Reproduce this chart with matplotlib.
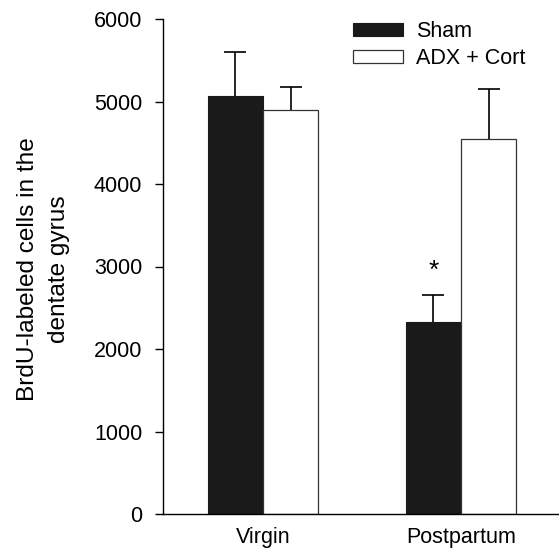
import matplotlib
matplotlib.use("Agg")
import matplotlib.pyplot as plt
import numpy as np

plt.rcParams['font.family'] = ['Liberation Sans', 'DejaVu Sans']

categories = ["Virgin", "Postpartum"]
sham_mean = [5070, 2330]
sham_err = [530, 320]
adx_mean = [4895, 4540]
adx_err = [285, 610]
yticks = [0, 1000, 2000, 3000, 4000, 5000, 6000]
ylabel_lines = ["BrdU-labeled cells in the", "dentate gyrus"]

W, H = 559, 550
fig = plt.figure(figsize=(W/100, H/100), dpi=100)
ax = fig.add_axes([163/W, 1-514/H, 1-163/W, (514-19)/H])

x = np.arange(len(categories))
w = 0.278
ekw = dict(elinewidth=1.2, capthick=1.2, ecolor='black')
b1 = ax.bar(x - w/2, sham_mean, w, color='#1a1a1a', edgecolor='#1a1a1a', lw=0.8, label='Sham',
            yerr=[np.zeros(2), sham_err], capsize=8, error_kw=ekw, zorder=2)
b2 = ax.bar(x + w/2, adx_mean, w, color='white', edgecolor='#333333', lw=0.9, label='ADX + Cort',
            yerr=[np.zeros(2), adx_err], capsize=8, error_kw=ekw, zorder=2)
for b in (b1, b2):
    caps = b.errorbar.lines[1]
    if len(caps) == 2:
        caps[0].set_visible(False)

ax.text(x[1] - w/2, sham_mean[1] + sham_err[1] + 300, '*', ha='center', va='center', fontsize=19)

ax.set_xlim(-0.505, 1.495)
ax.set_ylim(0, 6000)
ax.set_yticks(yticks)
ax.set_xticks(x)
ax.set_xticklabels(categories, fontsize=15.5)
ax.tick_params(axis='y', labelsize=15.5, direction='out', length=6, width=1, pad=9)
ax.tick_params(axis='x', length=0, pad=9)
ax.spines['top'].set_visible(False)
ax.spines['right'].set_visible(False)
ax.spines['left'].set_linewidth(1.0)
ax.spines['bottom'].set_linewidth(1.0)

ycen = 1 - 269.5/H
for xpix, line in zip([34, 65], ylabel_lines):
    fig.text(xpix/W, ycen, line, rotation=90, rotation_mode='anchor',
             ha='center', va='baseline', fontsize=17.6)

leg = ax.legend(loc='upper left', bbox_to_anchor=(353/W, 1-21/H), bbox_transform=fig.transFigure,
                frameon=False, fontsize=15.5, borderpad=0, borderaxespad=0,
                handlelength=2.32, handleheight=0.56, handletextpad=0.62, labelspacing=0.3)
fig.savefig("out.png", dpi=100)
